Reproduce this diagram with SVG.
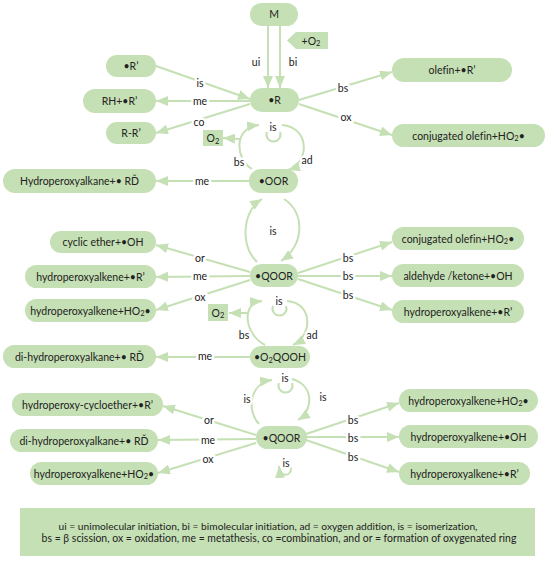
<svg xmlns="http://www.w3.org/2000/svg" width="550" height="568" viewBox="0 0 550 568">
<defs>
<marker id="ah" markerUnits="userSpaceOnUse" markerWidth="13" markerHeight="11" refX="12" refY="5" orient="auto">
<path d="M0,0 L12,5 L0,10 z" fill="#c5e0b4"/>
</marker>
<style>
text{font-variant-ligatures:none;font-feature-settings:"liga" 0;}
.n{fill:#c5e0b4;}
.t{font-family:Lato,"Liberation Sans",sans-serif;font-size:10.5px;fill:#222;text-anchor:middle;}
.l{font-family:Lato,"Liberation Sans",sans-serif;font-size:10.5px;fill:#222;text-anchor:middle;stroke:#fff;stroke-width:5px;paint-order:stroke;stroke-linejoin:round;}
.c{fill:none;stroke:#c5e0b4;stroke-width:2;marker-end:url(#ah);}
.p{fill:none;stroke:#c5e0b4;stroke-width:2;}
.s{font-size:7.5px;}
.g{font-family:Lato,"Liberation Sans",sans-serif;fill:#222;text-anchor:middle;}
</style>
</defs>
<rect width="550" height="568" fill="#fff"/>

<g id="connectors">
<line class="c" x1="268" y1="26" x2="268" y2="88"/>
<line class="c" x1="280" y1="26" x2="280" y2="88"/>
<line class="c" x1="156" y1="66" x2="250" y2="99"/>
<line class="c" x1="250" y1="101" x2="156" y2="101"/>
<line class="c" x1="250" y1="104" x2="156" y2="133"/>
<line class="c" x1="299" y1="100" x2="392" y2="72"/>
<line class="c" x1="299" y1="104" x2="392" y2="135"/>
<path class="c" d="M252 169 C236 160,232 128,259 125"/>
<path class="c" d="M282 125 C310 127,310 163,288 170"/>
<path class="p" d="M267 132 A7 7 0 1 0 280 132"/>
<line class="c" x1="240" y1="139" x2="223" y2="138"/>
<line class="c" x1="250" y1="181" x2="156" y2="181"/>

<path class="c" d="M257 262 C240 245,242 212,262 199"/>
<path class="c" d="M284 199 C305 212,305 245,281 261"/>

<line class="c" x1="250" y1="272" x2="156" y2="245"/>
<line class="c" x1="250" y1="276" x2="156" y2="277"/>
<line class="c" x1="250" y1="280" x2="156" y2="310"/>
<line class="c" x1="298" y1="273" x2="392" y2="242"/>
<line class="c" x1="298" y1="276" x2="392" y2="276"/>
<line class="c" x1="298" y1="279" x2="392" y2="310"/>

<path class="c" d="M265 345 C245 335,240 303,262 301"/>
<path class="c" d="M287 301 C313 303,313 335,293 345"/>
<path class="p" d="M273 306 A7 7 0 1 0 286 306"/>
<line class="c" x1="247" y1="313" x2="229" y2="313"/>
<line class="c" x1="250" y1="357" x2="156" y2="357"/>

<path class="c" d="M259 424 C246 410,250 383,272 380"/>
<path class="c" d="M292 379 C314 385,314 410,298 420"/>
<path class="p" d="M279 383 A7 7 0 1 0 292 383"/>
<path class="c" d="M291 467 C292 477,280 478,279 466"/>

<line class="c" x1="256" y1="435" x2="163" y2="406"/>
<line class="c" x1="256" y1="439" x2="158" y2="440"/>
<line class="c" x1="256" y1="443" x2="158" y2="473"/>
<line class="c" x1="306" y1="434" x2="399" y2="403"/>
<line class="c" x1="306" y1="437" x2="399" y2="437"/>
<line class="c" x1="306" y1="440" x2="399" y2="472"/>

<text class="l" x="256" y="66">ui</text>
<text class="l" x="293" y="66">bi</text>
<text class="l" x="200" y="87">is</text>
<text class="l" x="200" y="105">me</text>
<text class="l" x="199" y="126">co</text>
<text class="l" x="343" y="92">bs</text>
<text class="l" x="346" y="121">ox</text>
<text class="l" x="273" y="131">is</text>
<text class="l" x="239" y="166">bs</text>
<text class="l" x="307" y="164">ad</text>
<text class="l" x="202" y="185">me</text>
<text class="l" x="273" y="235">is</text>
<text class="l" x="200" y="262">or</text>
<text class="l" x="200" y="280">me</text>
<text class="l" x="200" y="301">ox</text>
<text class="l" x="348" y="262">bs</text>
<text class="l" x="348" y="280">bs</text>
<text class="l" x="348" y="299">bs</text>
<text class="l" x="279" y="305">is</text>
<text class="l" x="244" y="339">bs</text>
<text class="l" x="312" y="339">ad</text>
<text class="l" x="205" y="360">me</text>
<text class="l" x="285" y="382">is</text>
<text class="l" x="247" y="403">is</text>
<text class="l" x="323" y="401">is</text>
<text class="l" x="286" y="467">is</text>
<text class="l" x="209" y="424">or</text>
<text class="l" x="208" y="444">me</text>
<text class="l" x="208" y="463">ox</text>
<text class="l" x="353" y="424">bs</text>
<text class="l" x="353" y="442">bs</text>
<text class="l" x="353" y="461">bs</text>
</g>

<g id="M"><rect class="n" x="250" y="3" width="48" height="23" rx="11.5"/><text class="t" x="274" y="18">M</text></g>
<g id="O2in"><polygon class="n" points="287,40.5 296,32 328,32 328,49 296,49"/><text class="t" x="311" y="44.5">+O<tspan class="s" dy="1.5">2</tspan></text></g>
<g id="R"><rect class="n" x="250" y="88" width="49" height="24" rx="12"/><text class="t" x="274.5" y="104">•R</text></g>
<g id="Rp"><rect class="n" x="106" y="55" width="50" height="22" rx="11"/><text class="t" x="131" y="70">•R’</text></g>
<g id="RH"><rect class="n" x="83" y="89" width="73" height="24" rx="12"/><text class="t" x="119.5" y="105">RH+•R’</text></g>
<g id="RR"><rect class="n" x="106" y="122" width="50" height="22" rx="11"/><text class="t" x="131" y="137">R-R’</text></g>
<g id="olefin"><rect class="n" x="392" y="58" width="120" height="24" rx="12"/><text class="t" x="452" y="74">olefin+•R’</text></g>
<g id="conj1"><rect class="n" x="392" y="124" width="153" height="23" rx="11.5"/><text class="t" x="468.5" y="139.5">conjugated olefin+HO<tspan class="s" dy="1.5">2</tspan><tspan dy="-1.5">•</tspan></text></g>
<g id="O2a"><rect class="n" x="203" y="130" width="20" height="16"/><text class="t" x="213" y="142">O<tspan class="s" dy="1.5">2</tspan></text></g>
<g id="hpa"><rect class="n" x="3" y="169" width="153" height="24" rx="12"/><text class="t" x="79.5" y="185">Hydroperoxyalkane+• RĎ</text></g>
<g id="OOR"><rect class="n" x="249" y="169" width="49" height="24" rx="12"/><text class="t" x="273.5" y="185">•OOR</text></g>

<g id="cyc"><rect class="n" x="50" y="231" width="106" height="22" rx="11"/><text class="t" x="103" y="246">cyclic ether+•OH</text></g>
<g id="hpaR1"><rect class="n" x="25" y="265" width="131" height="23" rx="11.5"/><text class="t" x="90.5" y="280.5">hydroperoxyalkene+•R’</text></g>
<g id="hpaHO1"><rect class="n" x="25" y="299" width="131" height="23" rx="11.5"/><text class="t" x="90.5" y="314.5">hydroperoxyalkene+HO<tspan class="s" dy="1.5">2</tspan><tspan dy="-1.5">•</tspan></text></g>
<g id="QOOR1"><rect class="n" x="250" y="264" width="48" height="23" rx="11.5"/><text class="t" x="274" y="279.5">•QOOR</text></g>
<g id="conj2"><rect class="n" x="392" y="227" width="132" height="23" rx="11.5"/><text class="t" x="458" y="242.5">conjugated olefin+HO<tspan class="s" dy="1.5">2</tspan><tspan dy="-1.5">•</tspan></text></g>
<g id="ald"><rect class="n" x="392" y="264" width="132" height="23" rx="11.5"/><text class="t" x="458" y="279.5">aldehyde /ketone+•OH</text></g>
<g id="hpaR2"><rect class="n" x="392" y="300" width="132" height="23" rx="11.5"/><text class="t" x="458" y="315.5">hydroperoxyalkene+•R’</text></g>
<g id="O2b"><rect class="n" x="208" y="304" width="20" height="17"/><text class="t" x="218" y="316.5">O<tspan class="s" dy="1.5">2</tspan></text></g>
<g id="dihpa1"><rect class="n" x="3" y="345" width="153" height="23" rx="11.5"/><text class="t" x="79.5" y="360.5">di-hydroperoxyalkane+• RĎ</text></g>
<g id="O2QOOH"><rect class="n" x="250" y="346" width="60" height="22" rx="11"/><text class="t" x="280" y="361">•O<tspan class="s" dy="1.5">2</tspan><tspan dy="-1.5">QOOH</tspan></text></g>

<g id="hpce"><rect class="n" x="12" y="393" width="151" height="23" rx="11.5"/><text class="t" x="87.5" y="408.5">hydroperoxy-cycloether+•R’</text></g>
<g id="dihpa2"><rect class="n" x="10" y="429" width="148" height="23" rx="11.5"/><text class="t" x="84" y="444.5">di-hydroperoxyalkane+• RĎ</text></g>
<g id="hpaHO2"><rect class="n" x="30" y="462" width="128" height="23" rx="11.5"/><text class="t" x="94" y="477.5">hydroperoxyalkene+HO<tspan class="s" dy="1.5">2</tspan><tspan dy="-1.5">•</tspan></text></g>
<g id="QOOR2"><rect class="n" x="256" y="426" width="51" height="23" rx="11.5"/><text class="t" x="281.5" y="441.5">•QOOR</text></g>
<g id="hpaHO3"><rect class="n" x="399" y="389" width="139" height="23" rx="11.5"/><text class="t" x="468.5" y="404.5">hydroperoxyalkene+HO<tspan class="s" dy="1.5">2</tspan><tspan dy="-1.5">•</tspan></text></g>
<g id="hpaOH"><rect class="n" x="399" y="425" width="139" height="23" rx="11.5"/><text class="t" x="468.5" y="440.5">hydroperoxyalkene+•OH</text></g>
<g id="hpaR3"><rect class="n" x="399" y="462" width="131" height="23" rx="11.5"/><text class="t" x="464.5" y="477.5">hydroperoxyalkene+•R’</text></g>

<g id="legend"><rect class="n" x="20" y="508" width="515" height="48"/>
<text class="g" x="268" y="529.5" font-size="10.2">ui = unimolecular initiation, bi = bimolecular initiation, ad = oxygen addition, is = isomerization,</text>
<text class="g" x="279" y="541.5" font-size="10.45">bs = β scission, ox = oxidation, me = metathesis, co =combination, and or = formation of oxygenated ring</text>
</g>
</svg>
